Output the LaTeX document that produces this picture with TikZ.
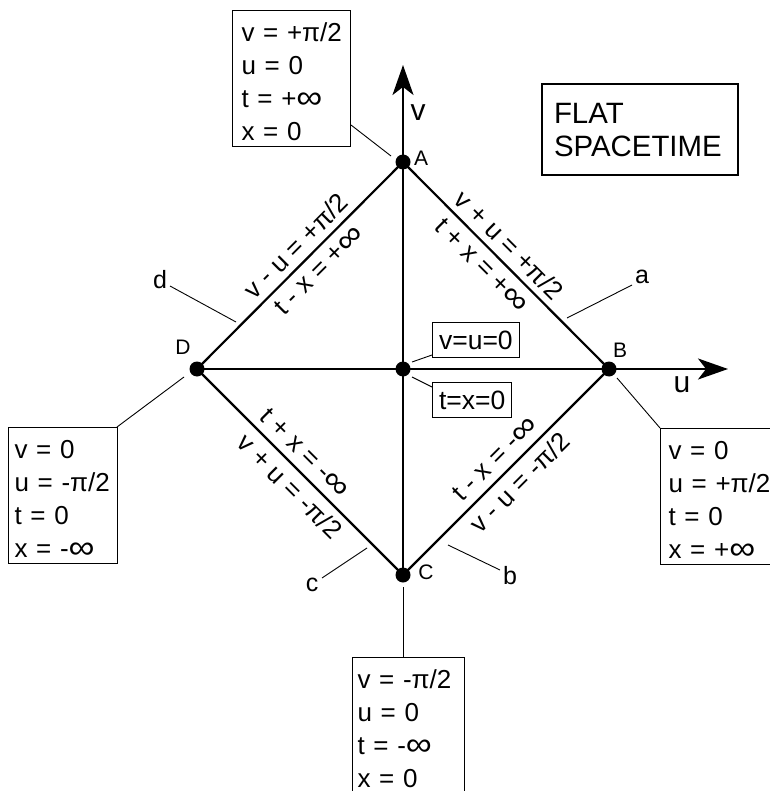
\documentclass[tikz,border=0pt]{standalone}
\usepackage{fontspec}
\usepackage{graphicx}
\setmainfont{Liberation Sans}
\usetikzlibrary{arrows.meta}
\newcommand{\bxtop}{\rule{0pt}{31pt}}
\newcommand{\bxbot}{\rule[-6pt]{0pt}{6pt}}
\newcommand{\infsym}{\raisebox{-0.04em}{\scalebox{1.4}[1.25]{∞}}}
\begin{document}
\begin{tikzpicture}[x=1pt,y=-1pt,
  mainline/.style={line width=2.2pt},
  leader/.style={line width=0.9pt},
  dot/.style={circle, fill=black, inner sep=0pt, minimum size=15pt},
  ptbox/.style={draw, line width=1.1pt, anchor=north west, align=left, inner ysep=0pt, font=\fontsize{26}{33}\selectfont},
  smallbox/.style={draw, line width=1.1pt, anchor=north west, inner xsep=6.5pt, inner ysep=8.3pt, font=\fontsize{26.5}{33}\selectfont},
  titlebox/.style={draw, line width=2pt, anchor=north west, align=left, inner xsep=12pt, inner ysep=18.8pt, text width=172pt, font=\fontsize{29.4}{33}\selectfont},
  elabel/.style={font=\fontsize{26}{30}\selectfont, inner sep=0pt},
  ptlabel/.style={font=\fontsize{21}{24}\selectfont, inner sep=0pt},
  ldlabel/.style={font=\fontsize{25}{28}\selectfont, inner sep=0pt},
  axlabel/.style={font=\fontsize{30}{34}\selectfont, inner sep=0pt},
  axarrow/.style={mainline, -{Stealth[length=30pt, width=21pt, inset=8pt]}}
]
\useasboundingbox (0,0) rectangle (769,791);

% main points
\coordinate (A) at (403,162);
\coordinate (B) at (609,369);
\coordinate (C) at (403,575);
\coordinate (D) at (197,369);
\coordinate (O) at (403,369);
\coordinate (vtip) at (403,65);
\coordinate (utip) at (728,369);

% diamond and axes
\draw[mainline] (D) -- (A) -- (B) -- (C) -- cycle;
\draw[axarrow] (C) -- (vtip);
\draw[axarrow] (D) -- (utip);

% dots
\node[dot] (Adot) at (A) {};
\node[dot] (Bdot) at (B) {};
\node[dot] (Cdot) at (C) {};
\node[dot] (Ddot) at (D) {};
\node[dot] (Odot) at (O) {};

% point labels
\node[ptlabel] (Alab) at (421,158) {A};
\node[ptlabel] (Blab) at (620,350) {B};
\node[ptlabel] (Clab) at (426,572) {C};
\node[ptlabel] (Dlab) at (183,347) {D};

% axis labels
\node[axlabel] (vlab) at (418,113) {v};
\node[axlabel] (ulab) at (682,385) {u};

% title
\node[titlebox] (title) at (541,83) {FLAT\\SPACETIME};

% point boxes
\node[ptbox, inner xsep=9pt, text width=100pt] (boxA) at (232,10) {\bxtop\mbox{v = +π/2}\\\mbox{u = 0}\\\mbox{t = +\infsym}\\\mbox{x = 0}\bxbot};
\node[ptbox, inner xsep=8pt, text width=106pt] (boxB) at (660,428) {\bxtop\mbox{v = 0}\\\mbox{u = +π/2}\\\mbox{t = 0}\\\mbox{x = +\infsym}\bxbot};
\node[ptbox, inner xsep=5pt, text width=102pt] (boxC) at (352,657) {\bxtop\mbox{v = -π/2}\\\mbox{u = 0}\\\mbox{t = -\infsym}\\\mbox{x = 0}\bxbot};
\node[ptbox, inner xsep=6pt, text width=97pt] (boxD) at (8,427) {\bxtop\mbox{v = 0}\\\mbox{u = -π/2}\\\mbox{t = 0}\\\mbox{x = -\infsym}\bxbot};

% center boxes
\node[smallbox] (boxuv) at (432,322) {v=u=0};
\node[smallbox] (boxtx) at (432,382) {t=x=0};

% leader coordinates
\coordinate (lA1) at (351,125);  \coordinate (lA2) at (391,156);
\coordinate (lB1) at (617,378);  \coordinate (lB2) at (660,428);
\coordinate (lC1) at (403,587);  \coordinate (lC2) at (403,657);
\coordinate (lD1) at (117,427);  \coordinate (lD2) at (184,377);
\coordinate (luv1) at (432,355); \coordinate (luv2) at (412,362);
\coordinate (ltx1) at (432,387); \coordinate (ltx2) at (412,377);
\coordinate (la1) at (632,285);  \coordinate (la2) at (567,318);
\coordinate (lb1) at (500,570);  \coordinate (lb2) at (448,545);
\coordinate (lc1) at (322,578);  \coordinate (lc2) at (367,548);
\coordinate (ld1) at (170,286);  \coordinate (ld2) at (236,322);

\draw[leader] (lA1) -- (lA2);
\draw[leader] (lB1) -- (lB2);
\draw[leader] (lC1) -- (lC2);
\draw[leader] (lD1) -- (lD2);
\draw[leader] (luv1) -- (luv2);
\draw[leader] (ltx1) -- (ltx2);
\draw[leader] (la1) -- (la2);
\draw[leader] (lb1) -- (lb2);
\draw[leader] (lc1) -- (lc2);
\draw[leader] (ld1) -- (ld2);

% edge names
\node[ldlabel] (alab) at (642,277) {a};
\node[ldlabel] (blab) at (510,576) {b};
\node[ldlabel] (clab) at (312,585) {c};
\node[ldlabel] (dlab) at (160,280) {d};

% edge labels
\node[elabel, rotate=45]  (eDA1) at (295.8,245.7) {v - u = +π/2};
\node[elabel, rotate=45]  (eDA2) at (319.1,270.5) {t - x = +\infsym};
\node[elabel, rotate=-45] (eAB1) at (509.5,245.0) {v + u = +π/2};
\node[elabel, rotate=-45] (eAB2) at (482.0,265.5) {t + x = +\infsym};
\node[elabel, rotate=-45] (eDC1) at (304.9,452.9) {t + x = -\infsym};
\node[elabel, rotate=-45] (eDC2) at (290.1,486.1) {v + u = -π/2};
\node[elabel, rotate=45]  (eCB1) at (495.0,458.9) {t - x = -\infsym};
\node[elabel, rotate=45]  (eCB2) at (519.4,482.6) {v - u = -π/2};
\end{tikzpicture}
\end{document}
